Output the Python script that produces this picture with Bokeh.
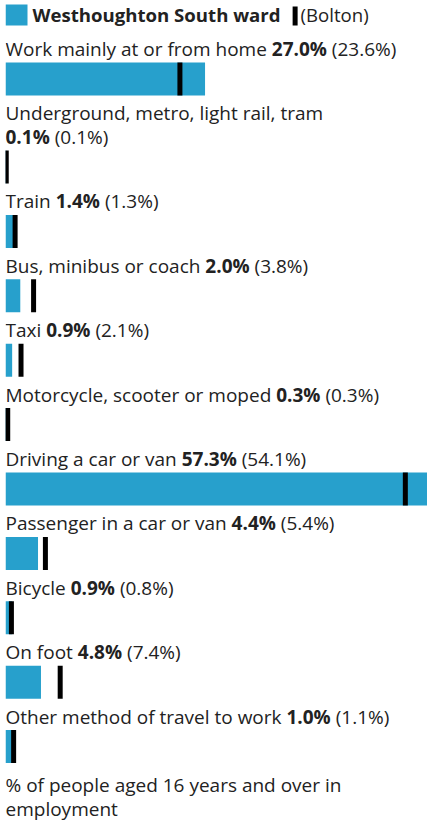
import glob
import os
import subprocess

from bokeh.plotting import figure
from bokeh.models import Range1d, ColumnDataSource
from bokeh.core.properties import value
from bokeh.embed import file_html
from bokeh.resources import INLINE

# ---------------- data ----------------
area_name = "Westhoughton South ward"
comparison_name = "Bolton"
categories = [
    "Work mainly at or from home",
    "Underground, metro, light rail, tram",
    "Train",
    "Bus, minibus or coach",
    "Taxi",
    "Motorcycle, scooter or moped",
    "Driving a car or van",
    "Passenger in a car or van",
    "Bicycle",
    "On foot",
    "Other method of travel to work",
]
area_values = [27.0, 0.1, 1.4, 2.0, 0.9, 0.3, 57.3, 4.4, 0.9, 4.8, 1.0]
comparison_values = [23.6, 0.1, 1.3, 3.8, 2.1, 0.3, 54.1, 5.4, 0.8, 7.4, 1.1]
footnote = "% of people aged 16 years and over in employment"

# ---------------- style ----------------
BLUE = "#27a0cc"
TEXT = "#222222"
FONT = "Open Sans"
FS = 19
FS_TITLE = 18.6
W, H = 422, 825
TOP = 5
X_END = 57.1
LINE = 23.6
BAR_H = 33
BAR_OFF = 6.5
GAP = 24.9
TDY = -7  # correction between requested and rendered text baseline


def font_file(style):
    try:
        out = subprocess.run(["fc-match", "-f", "%{file}", f"Open Sans:{style}"],
                             capture_output=True, text=True, timeout=5).stdout.strip()
        if out and os.path.exists(out):
            return out
    except Exception:
        pass
    c = glob.glob("/usr/share/fonts/**/*OpenSans*", recursive=True)
    if style == "bold":
        b = [f for f in c if "Bold" in f and "Italic" not in f and "Semi" not in f and "Extra" not in f]
        if b:
            return b[0]
    r = [f for f in c if "Regular" in f or "[" in f]
    return (r or c or [None])[0]


def make_measure(style, size):
    try:
        from PIL import ImageFont
        f = ImageFont.truetype(font_file(style), int(size * 10))
        if style == "bold":
            try:
                names = f.get_variation_names()
                for n in names:
                    if (n.decode() if isinstance(n, bytes) else n) == "Bold":
                        f.set_variation_by_name(n)
            except Exception:
                pass
        return lambda s: f.getlength(s) / 10.0
    except Exception:
        k = 0.60 if style == "bold" else 0.55
        return lambda s: len(s) * size * k


mreg = make_measure("regular", FS)
mbold = make_measure("bold", FS)
mtitle = make_measure("bold", FS_TITLE)
SP = mreg(" ")

p = figure(width=W, height=H, x_range=Range1d(0, X_END), y_range=Range1d(H, 0),
           output_backend="svg", toolbar_location=None, min_border=0,
           styles={"margin-left": "5px"})
p.axis.visible = False
p.grid.visible = False
p.outline_line_color = None
p.background_fill_color = "white"
p.border_fill_color = "white"

px = X_END / W  # data units per pixel (for legend placement only)

# ---------------- legend ----------------
title_w = mtitle(area_name)
p.quad(left=[0], right=[22 * px], top=[TOP - 1], bottom=[TOP + 20], fill_color=BLUE, line_color=None)
p.text(x=[0], y=[TOP + 16 + TDY], text=[area_name], x_offset=27, text_font=value(FONT),
       text_font_size=f"{FS_TITLE}px", text_font_style="bold", text_color=TEXT,
       text_baseline="alphabetic")
mk = 27 + title_w + 12
p.quad(left=[mk * px], right=[(mk + 5) * px], top=[TOP + 1], bottom=[TOP + 20],
       fill_color="black", line_color=None)
p.text(x=[0], y=[TOP + 16 + TDY], text=[f"({comparison_name})"], x_offset=mk + 8,
       text_font=value(FONT), text_font_size=f"{FS_TITLE}px", text_color=TEXT,
       text_baseline="alphabetic")

# ---------------- rows ----------------
reg = dict(x=[], y=[], text=[], xo=[])
bold = dict(x=[], y=[], text=[], xo=[])
bar_y = []
base = TOP + 50.5
bar_bottom = 0
for cat, a, c in zip(categories, area_values, comparison_values):
    vtxt = f"{a:.1f}%"
    ctxt = f"({c:.1f}%)"
    lw = mreg(cat)
    group_w = mbold(vtxt) + SP + mreg(ctxt)
    if lw + SP + group_w <= W:
        gx, gy = lw + SP, base
    else:
        gx, gy = 0, base + LINE
    reg["x"].append(0); reg["y"].append(base + TDY); reg["text"].append(cat); reg["xo"].append(0)
    bold["x"].append(0); bold["y"].append(gy + TDY); bold["text"].append(vtxt); bold["xo"].append(gx)
    reg["x"].append(0); reg["y"].append(gy + TDY); reg["text"].append(ctxt)
    reg["xo"].append(gx + mbold(vtxt) + SP)
    bar_top = gy + BAR_OFF
    bar_y.append(bar_top + BAR_H / 2)
    bar_bottom = bar_top + BAR_H
    base = bar_bottom + GAP

src = ColumnDataSource(dict(y=bar_y, area=area_values, comp=comparison_values, cat=categories))
p.hbar(y="y", left=0, right="area", height=BAR_H, fill_color=BLUE, line_color=None, source=src)
p.rect(x="comp", y="y", width=5, width_units="screen", height=BAR_H, fill_color="black",
       line_color=None, source=src)

p.text(x="x", y="y", text="text", x_offset="xo", source=ColumnDataSource(reg),
       text_font=value(FONT), text_font_size=f"{FS}px", text_color=TEXT, text_baseline="alphabetic")
p.text(x="x", y="y", text="text", x_offset="xo", source=ColumnDataSource(bold),
       text_font=value(FONT), text_font_size=f"{FS}px", text_font_style="bold",
       text_color=TEXT, text_baseline="alphabetic")

# ---------------- footnote ----------------
words = footnote.split(" ")
lines, cur = [], ""
for w_ in words:
    t = (cur + " " + w_).strip()
    if mreg(t) <= W or not cur:
        cur = t
    else:
        lines.append(cur)
        cur = w_
lines.append(cur)
fy = bar_bottom + 28.5 + TDY
p.text(x=[0] * len(lines), y=[fy + i * 24.5 for i in range(len(lines))], text=lines,
       text_font=value(FONT), text_font_size=f"{FS}px", text_color=TEXT, text_baseline="alphabetic")

open("out.html", "w").write(file_html(p, INLINE))
